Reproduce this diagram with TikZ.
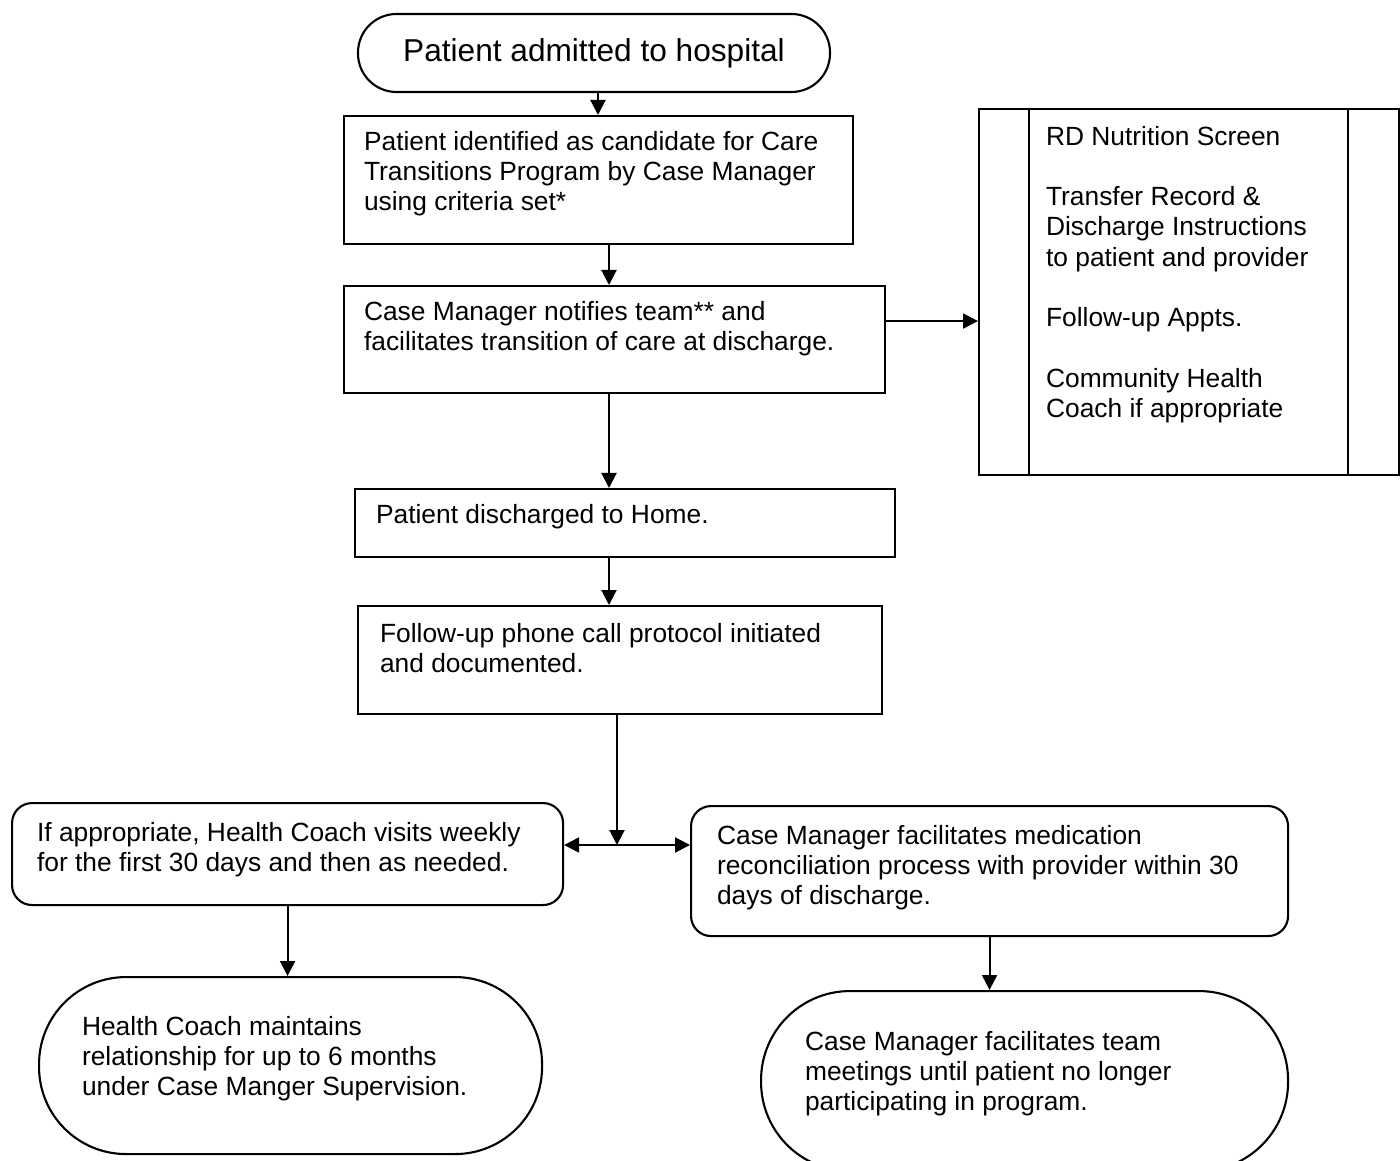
\documentclass[tikz,border=0pt]{standalone}
\usepackage{fontspec}
\setmainfont{Liberation Sans}
\usetikzlibrary{arrows.meta}
\newcommand{\flowtext}[3]{\parbox[c][#2][t]{#1}{\raggedright\strut #3}}
\tikzset{
  flowtip/.tip={Triangle[length=1.5mm,width=1.5mm]},
  flow/.style={draw, line width=.6pt, anchor=north west, inner sep=0pt,
    font=\fontsize{7.5}{8.6}\selectfont},
  roundflow/.style={flow, rounded corners=2mm},
  predef/.style={flow, path picture={
    \draw[line width=.6pt] ([xshift=5mm]path picture bounding box.north west)
      -- ([xshift=5mm]path picture bounding box.south west);
    \draw[line width=.6pt] ([xshift=-5.1mm]path picture bounding box.north east)
      -- ([xshift=-5.1mm]path picture bounding box.south east);}},
  arr/.style={-{flowtip}, line width=.6pt}
}
\begin{document}
\begin{tikzpicture}
  \clip (0,0) rectangle (14,-11.61);
  \node[draw, line width=.6pt, minimum width=4.72cm, minimum height=7.8mm,
    rounded corners=3.85mm, font=\fontsize{9}{10.5}\selectfont]
    (title) at (5.94,-.53) {Patient admitted to hospital};
  \node[flow, inner xsep=2mm, inner ysep=1.3mm] (ident) at (3.43,-1.15)
    {\flowtext{4.69cm}{1.02cm}{Patient identified as candidate for Care\\
      Transitions Program by Case Manager\\ using criteria set*}};
  \node[flow, inner xsep=2mm, inner ysep=1.3mm] (notify) at (3.43,-2.85)
    {\flowtext{5.01cm}{.81cm}{Case Manager notifies team** and\\
      facilitates transition of care at discharge.}};
  \node[predef, inner xsep=6.7mm, inner ysep=1.5mm] (check) at (9.78,-1.08)
    {\flowtext{2.86cm}{3.36cm}{RD Nutrition Screen\\[8.6pt]
      Transfer Record \&\\ Discharge Instructions\\ to patient and provider\\[8.6pt]
      Follow-up Appts.\\[8.6pt]
      Community Health\\ Coach if appropriate}};
  \node[flow, inner xsep=2.1mm, inner ysep=1.3mm] (home) at (3.54,-4.88)
    {\flowtext{4.98cm}{.42cm}{Patient discharged to Home.}};
  \node[flow, inner xsep=2.2mm, inner ysep=1.5mm] (phone) at (3.57,-6.05)
    {\flowtext{4.80cm}{.78cm}{Follow-up phone call protocol initiated\\
      and documented.}};
  \node[roundflow, inner xsep=2.5mm, inner ysep=1.7mm] (coach) at (.11,-8.02)
    {\flowtext{5.01cm}{.68cm}{If appropriate, Health Coach visits weekly\\
      for the first 30 days and then as needed.}};
  \node[roundflow, inner xsep=2.6mm, inner ysep=1.7mm] (medic) at (6.90,-8.05)
    {\flowtext{5.45cm}{.96cm}{Case Manager facilitates medication\\
      reconciliation process with provider within 30\\ days of discharge.}};
  \node[flow, rounded corners=8.7mm, inner xsep=4.3mm, inner ysep=3.7mm]
    (hcm) at (.38,-9.76)
    {\flowtext{4.17cm}{1.03cm}{Health Coach maintains\\
      relationship for up to 6 months\\ under Case Manger Supervision.}};
  \node[flow, rounded corners=8.9mm, inner xsep=4.4mm, inner ysep=3.8mm]
    (cmt) at (7.60,-9.90)
    {\flowtext{4.39cm}{1.04cm}{Case Manager facilitates team\\
      meetings until patient no longer\\ participating in program.}};
  \coordinate (spineA) at (5.98,0);
  \coordinate (spineB) at (6.09,0);
  \coordinate (hub) at (6.17,-8.45);
  \draw[arr] (title.south -| spineA) -- (ident.north -| spineA);
  \draw[arr] (ident.south -| spineB) -- (notify.north -| spineB);
  \draw[arr] ([yshift=1.85mm]notify.east) -- ([yshift=1.85mm]notify.east -| check.west);
  \draw[arr] (notify.south -| spineB) -- (home.north -| spineB);
  \draw[arr] (home.south -| spineB) -- (phone.north -| spineB);
  \draw[arr] (phone.south -| hub) -- (hub);
  \draw[arr, {flowtip}-{flowtip}] (hub -| coach.east) -- (hub -| medic.west);
  \draw[arr] (coach.south) -- (coach.south |- hcm.north);
  \draw[arr] (medic.south) -- (medic.south |- cmt.north);
\end{tikzpicture}
\end{document}
